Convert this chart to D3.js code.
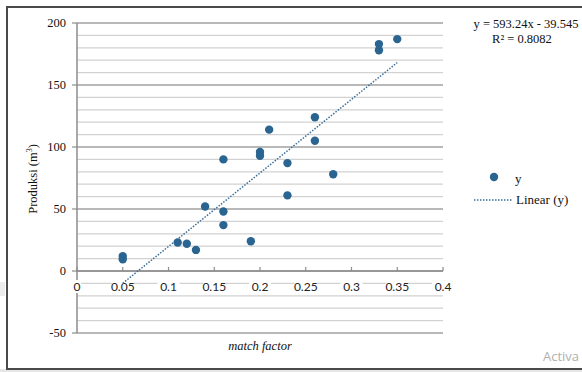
<!DOCTYPE html>
<html>
<head>
<meta charset="utf-8">
<script src="https://cdn.jsdelivr.net/npm/d3@7"></script>
<style>
  body { margin: 0; background: #fff; }
  svg { display: block; }
</style>
</head>
<body>
<div id="chart"></div>
<script>
// match factor vs produksi
const matchFactor = [0.05, 0.05, 0.11, 0.12, 0.13, 0.14, 0.16, 0.16, 0.16, 0.19, 0.20, 0.20, 0.21, 0.23, 0.23, 0.26, 0.26, 0.28, 0.33, 0.33, 0.35];
const produksi    = [12, 9.5, 23, 22, 17, 52, 48, 37, 90, 24, 96, 93, 114, 87, 61, 124, 105, 78, 183, 178, 187];
const xTicks = [0, 0.05, 0.1, 0.15, 0.2, 0.25, 0.3, 0.35, 0.4];
const yTicks = [-50, 0, 50, 100, 150, 200];
const yMinor = d3.range(-50, 201, 10);
// trendline as printed on the chart
const slope = 593.24;
const intercept = -39.545;
const trendFrom = 0.05, trendTo = 0.35;
const eqText = 'y = 593.24x - 39.545';
const r2Text = 'R² = 0.8082';

const W = 582, H = 372;
const blue = '#2a6592';
const ink = '#111';
const svg = d3.select('#chart').append('svg').attr('width', W).attr('height', H);

// outer frame
svg.append('rect').attr('x', 0).attr('y', 369).attr('width', W).attr('height', 3).attr('fill', '#e6e6e6');
svg.append('rect').attr('x', 7).attr('y', 7).attr('width', W).attr('height', 362)
  .attr('fill', '#fff').attr('stroke', '#4a4a4a').attr('stroke-width', 2);
svg.append('rect').attr('x', 0).attr('y', 282).attr('width', 5).attr('height', 14).attr('fill', '#ececec');

const x = d3.scaleLinear().domain([0, 0.4]).range([77, 443]);
const y = d3.scaleLinear().domain([-50, 200]).range([333, 23]);

// gridlines
svg.append('g').selectAll('line').data(yMinor).join('line')
  .attr('x1', x(0)).attr('x2', x(0.4))
  .attr('y1', d => y(d)).attr('y2', d => y(d))
  .attr('stroke', d => d % 50 === 0 ? '#a0a0a0' : '#d2d2d2')
  .attr('stroke-width', d => d % 50 === 0 ? 1.5 : 1.3);

// y axis
svg.append('line').attr('x1', x(0)).attr('x2', x(0)).attr('y1', y(200)).attr('y2', y(-50))
  .attr('stroke', '#8c8c8c').attr('stroke-width', 1.5);
svg.append('g').selectAll('line').data(yTicks).join('line')
  .attr('x1', x(0) - 5).attr('x2', x(0)).attr('y1', d => y(d)).attr('y2', d => y(d))
  .attr('stroke', '#8c8c8c').attr('stroke-width', 1.2);
svg.append('g').selectAll('text').data(yTicks).join('text')
  .attr('x', 66).attr('y', d => y(d) + 4)
  .attr('text-anchor', 'end')
  .attr('font-family', 'Liberation Serif, serif').attr('font-size', 12.5).attr('fill', ink)
  .text(d => d);

// x axis at y = 0
svg.append('line').attr('x1', x(0)).attr('x2', x(0.4)).attr('y1', y(0)).attr('y2', y(0))
  .attr('stroke', '#8c8c8c').attr('stroke-width', 1.5);
svg.append('g').selectAll('line').data(xTicks).join('line')
  .attr('x1', d => x(d)).attr('x2', d => x(d)).attr('y1', y(0) - 4).attr('y2', y(0))
  .attr('stroke', '#8c8c8c').attr('stroke-width', 1.2);
const xl = svg.append('g').selectAll('g').data(xTicks).join('g')
  .attr('transform', d => `translate(${x(d)},${y(0) + 20})`);
xl.append('rect').attr('x', d => d === 0 ? -4 : -11).attr('y', -11)
  .attr('width', d => d === 0 ? 8 : 22).attr('height', 13).attr('fill', '#fff');
xl.append('text').attr('text-anchor', 'middle')
  .attr('font-family', 'Lato, sans-serif').attr('font-size', 12).attr('fill', '#222')
  .text(d => d);

// trendline
svg.append('line')
  .attr('x1', x(trendFrom)).attr('y1', y(slope * trendFrom + intercept))
  .attr('x2', x(trendTo)).attr('y2', y(slope * trendTo + intercept))
  .attr('stroke', '#3d6f9a').attr('stroke-width', 1.5).attr('stroke-dasharray', '1.5,1.5');

// points
svg.append('g').selectAll('circle').data(matchFactor).join('circle')
  .attr('cx', d => x(d)).attr('cy', (d, i) => y(produksi[i]))
  .attr('r', 4.2).attr('fill', blue);

// axis titles
svg.append('text').attr('transform', 'translate(37,179) rotate(-90)')
  .attr('text-anchor', 'middle').attr('font-family', 'Liberation Serif, serif')
  .attr('font-size', 12.5).attr('fill', ink)
  .html('Produksi (m<tspan dy="-5" font-size="8">3</tspan><tspan dy="5">)</tspan>');
svg.append('text').attr('x', 260).attr('y', 350).attr('text-anchor', 'middle')
  .attr('font-family', 'Liberation Serif, serif').attr('font-style', 'italic')
  .attr('font-size', 12.5).attr('fill', ink).text('match factor');

// equation
svg.append('text').attr('x', 526).attr('y', 28).attr('text-anchor', 'middle')
  .attr('font-family', 'Liberation Serif, serif').attr('font-size', 12.5).attr('fill', ink).text(eqText);
svg.append('text').attr('x', 522).attr('y', 43).attr('text-anchor', 'middle')
  .attr('font-family', 'Liberation Serif, serif').attr('font-size', 12.5).attr('fill', ink).text(r2Text);

// legend
svg.append('circle').attr('cx', 494).attr('cy', 177).attr('r', 4.2).attr('fill', blue);
svg.append('text').attr('x', 515).attr('y', 183)
  .attr('font-family', 'Liberation Serif, serif').attr('font-size', 13).attr('fill', ink).text('y');
svg.append('line').attr('x1', 474).attr('x2', 512).attr('y1', 200).attr('y2', 200)
  .attr('stroke', '#3d6f9a').attr('stroke-width', 1.5).attr('stroke-dasharray', '1.5,1.5');
svg.append('text').attr('x', 516).attr('y', 204)
  .attr('font-family', 'Liberation Serif, serif').attr('font-size', 13).attr('fill', ink).text('Linear (y)');

svg.append('text').attr('x', 543).attr('y', 361)
  .attr('font-family', 'Open Sans, sans-serif').attr('font-size', 13).attr('fill', '#b0b0b0').text('Activa');
</script>
</body>
</html>
